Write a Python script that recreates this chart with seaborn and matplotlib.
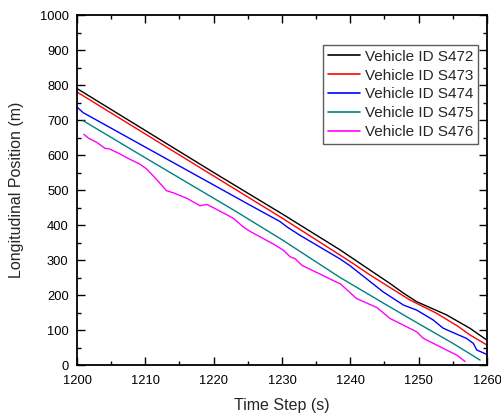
import numpy as np
import pandas as pd
import matplotlib
matplotlib.use("Agg")
import matplotlib.pyplot as plt
import seaborn as sns
from matplotlib.ticker import MultipleLocator

# Trajectories of five vehicles: time (s) and longitudinal position (m)
t_s472 = [1200, 1210, 1220, 1230, 1238.5, 1242.9, 1245.8, 1247.8, 1249.7, 1254.1, 1257.5, 1260]
y_s472 = [790, 670, 550, 432, 329, 271, 233, 205, 181, 143, 105, 71]

t_s473 = [1200, 1210, 1220, 1230, 1238.5, 1240.4, 1242.9, 1248.7, 1252.6, 1255.8, 1257.5, 1260]
y_s473 = [780, 660, 540, 420, 314, 290, 257, 186, 148, 110, 86, 57]

t_s474 = [1200, 1200.9, 1225.3, 1229.7, 1230.7, 1232.6, 1238.5, 1240, 1244.8, 1247.8,
          1249.7, 1252.1, 1253.6, 1257.0, 1258.0, 1258.5, 1260]
y_s474 = [737, 721, 457, 410, 395, 371, 303, 283, 209, 171, 157, 129, 105, 76, 62, 43, 30]

t_s475 = [1200.9, 1210, 1222.9, 1230, 1238.5, 1245, 1250, 1255, 1259]
y_s475 = [698, 592, 443, 358, 250, 175, 118, 62, 14]

t_s476 = [1201.0, 1201.7, 1202.9, 1204.1, 1204.8, 1206.3, 1207.5, 1209.2, 1210.2, 1211.7,
          1213.1, 1214.1, 1216.1, 1218.0, 1219.0, 1220.4, 1222.9, 1224.3, 1225.3, 1228.7,
          1230.2, 1231.2, 1231.9, 1232.9, 1238.6, 1240, 1240.9, 1243.9, 1245.8, 1249.7,
          1250.7, 1255.6, 1256.8]
y_s476 = [659, 648, 636, 619, 617, 603, 590, 574, 560, 529,
          498, 492, 476, 455, 459, 445, 419, 395, 382, 346,
          328, 309, 304, 285, 231, 206, 190, 164, 133, 95,
          76, 28, 10]

labels = ["Vehicle ID S472", "Vehicle ID S473", "Vehicle ID S474",
          "Vehicle ID S475", "Vehicle ID S476"]
series_t = [t_s472, t_s473, t_s474, t_s475, t_s476]
series_y = [y_s472, y_s473, y_s474, y_s475, y_s476]
colors = ["#000000", "#FF0000", "#0000FF", "#008080", "#FF00FF"]

frames = [pd.DataFrame({"t": t, "y": y, "vehicle": lab})
          for t, y, lab in zip(series_t, series_y, labels)]
df = pd.concat(frames, ignore_index=True)

sns.set_style("ticks")
plt.rcParams["font.family"] = ["Liberation Sans", "DejaVu Sans"]

fig = plt.figure(figsize=(5.01, 4.17), dpi=100)
ax = fig.add_axes([0.1537, 0.1247, 0.8183, 0.8393])

sns.lineplot(data=df, x="t", y="y", hue="vehicle", palette=colors,
             hue_order=labels, sort=False, estimator=None, linewidth=1.0, ax=ax)

ax.set_xlim(1200, 1260)
ax.set_ylim(0, 1000)
ax.xaxis.set_major_locator(MultipleLocator(10))
ax.xaxis.set_minor_locator(MultipleLocator(5))
ax.yaxis.set_major_locator(MultipleLocator(100))
ax.yaxis.set_minor_locator(MultipleLocator(50))
ax.tick_params(which="both", direction="in", top=True, right=True,
               labeltop=False, labelright=False, colors="black", labelsize=9.3)
ax.tick_params(axis="x", which="major", pad=7)
ax.tick_params(axis="y", which="major", pad=6)
ax.tick_params(which="major", length=5.5, width=1)
ax.tick_params(which="minor", length=3, width=1)
for side in ax.spines.values():
    side.set_linewidth(1.3)
    side.set_color("black")

ax.set_xlabel("Time Step (s)", fontsize=11.5, labelpad=8)
ax.set_ylabel("Longitudinal Position (m)", fontsize=11.5, labelpad=11)

leg = ax.legend(loc="upper right", bbox_to_anchor=(0.978, 0.914), fontsize=11,
                frameon=True, fancybox=False, edgecolor="#333333",
                handlelength=2.1, handletextpad=0.35, borderpad=0.3,
                labelspacing=0.32, borderaxespad=0.0)
leg.get_frame().set_linewidth(1.0)
for line in leg.get_lines():
    line.set_linewidth(1.2)

fig.savefig("out.png", dpi=100)
